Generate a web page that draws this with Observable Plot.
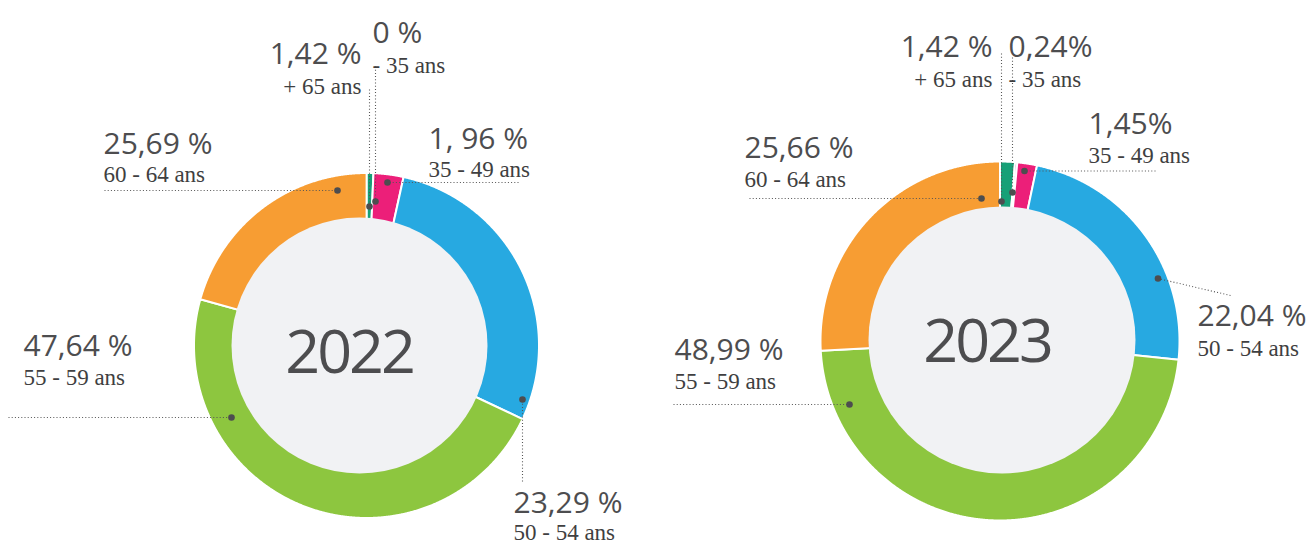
<!DOCTYPE html>
<html><head><meta charset="utf-8">
<script src="https://cdn.jsdelivr.net/npm/d3@7"></script>
<script src="https://cdn.jsdelivr.net/npm/@observablehq/plot@0.6"></script>
<style>
body{margin:0;background:#fff;}
.year text, text.year{letter-spacing:-3px}
.sub text, text.sub{font-family:"Liberation Serif","DejaVu Serif",Times,serif !important}
</style></head><body><div id="chart"></div>
<script>
// ---- data ----
const categories = ["+ 65 ans", "- 35 ans", "35 - 49 ans", "50 - 54 ans", "55 - 59 ans", "60 - 64 ans"];
const years = ["2022", "2023"];
const labels2022 = ["1,42 %", "0 %", "1, 96 %", "23,29 %", "47,64 %", "25,69 %"];
const labels2023 = ["1,42 %", "0,24%", "1,45%", "22,04 %", "48,99 %", "25,66 %"];
// slice sizes (%) as drawn in the picture
const shares2022 = [0.64, 0, 2.81, 28.56, 47.31, 20.69];
const shares2023 = [1.34, 0.2, 1.77, 23.36, 47.47, 25.86];

// ---- styles / layout ----
const colors = ["#17a077", "#8e3a96", "#ec1f79", "#27a9e1", "#8dc63f", "#f79d33"];
const W = 1314, H = 543;
const donuts = [
  {year: "2022", cx: 366, cy: 345, r: 172.5, hx: 359, hy: 345, hr: 128, tx: 348.5, ty: 372},
  {year: "2023", cx: 999.5, cy: 340.5, r: 179.5, hx: 1001.5, hy: 339.5, hr: 133.5, tx: 986.5, ty: 361}
];
const layout2022 = [
  {anchor: "end",   x: 361, y1: 63,  y2: 93,  lx1: 369, ly1: 89,  lx2: 369, ly2: 206},
  {anchor: "start", x: 372, y1: 42,  y2: 72,  lx1: 375, ly1: 66,  lx2: 375, ly2: 201},
  {anchor: "start", x: 428, y1: 148, y2: 176, lx1: 518, ly1: 182, lx2: 387, ly2: 182},
  {anchor: "start", x: 513, y1: 512, y2: 539, lx1: 522, ly1: 481, lx2: 522, ly2: 399},
  {anchor: "start", x: 23,  y1: 355, y2: 384, lx1: 8,   ly1: 417, lx2: 231, ly2: 417},
  {anchor: "start", x: 103, y1: 153, y2: 181, lx1: 104, ly1: 190, lx2: 337, ly2: 190}
];
const layout2023 = [
  {anchor: "end",   x: 992,  y1: 56,  y2: 86,  lx1: 1001, ly1: 53,    lx2: 1001,   ly2: 201},
  {anchor: "start", x: 1008, y1: 56,  y2: 86,  lx1: 1012, ly1: 57,    lx2: 1012,   ly2: 192},
  {anchor: "start", x: 1088, y1: 133, y2: 162, lx1: 1155, ly1: 170.5, lx2: 1024,   ly2: 170.5},
  {anchor: "start", x: 1197, y1: 325, y2: 355, lx1: 1230, ly1: 295,   lx2: 1157.5, ly2: 278},
  {anchor: "start", x: 674,  y1: 359, y2: 388, lx1: 673,  ly1: 404,   lx2: 849,    ly2: 404},
  {anchor: "start", x: 744,  y1: 157, y2: 186, lx1: 749,  ly1: 198,   lx2: 981,    ly2: 198}
];

const sharesBy = {"2022": shares2022, "2023": shares2023};
const labelsBy = {"2022": labels2022, "2023": labels2023};
const layoutBy = {"2022": layout2022, "2023": layout2023};

// slice outlines from the shares (angles clockwise from 12 o'clock)
const slicePts = [];
const rad = Math.PI / 180;
for (const d of donuts) {
  const s = sharesBy[d.year];
  const rin = 95;
  let a0 = 0;
  s.forEach((v, i) => {
    const a1 = a0 + v / 100 * 360;
    if (v > 0) {
      const id = d.year + "-" + i;
      const n = Math.max(2, Math.ceil((a1 - a0) / 0.25));
      const ring = [];
      for (let k = 0; k <= n; k++) { const a = (a0 + (a1 - a0) * k / n) * rad; ring.push([d.cx + d.r * Math.sin(a), d.cy - d.r * Math.cos(a)]); }
      for (let k = n; k >= 0; k--) { const a = (a0 + (a1 - a0) * k / n) * rad; ring.push([d.cx + rin * Math.sin(a), d.cy - rin * Math.cos(a)]); }
      ring.push(ring[0]);
      for (const [x, y] of ring) slicePts.push({id, cat: categories[i], x, y});
    }
    a0 = a1;
  });
}

const texts = [];
const leaders = [];
for (const y of years) {
  categories.forEach((c, i) => {
    const L = layoutBy[y][i];
    texts.push({anchor: L.anchor, x: L.x, yMain: L.y1, ySub: L.y2, main: labelsBy[y][i], sub: c});
    leaders.push(L);
  });
}

const ink = "#4d4d4f";
const mainFont = {fontFamily: "Open Sans", fontSize: 30, fill: ink, lineAnchor: "bottom"};
const subFont = {fontFamily: "Liberation Serif, DejaVu Serif, serif", fontSize: 23, fill: "#3f3f41", lineAnchor: "bottom", className: "sub"};

const chart = Plot.plot({
  width: W, height: H,
  marginTop: 0, marginRight: 0, marginBottom: 0, marginLeft: 0,
  x: {domain: [0, W], range: [0, W], axis: null},
  y: {domain: [0, H], range: [0, H], axis: null},
  r: {type: "identity"},
  color: {domain: categories, range: colors},
  style: {background: "#fff", overflow: "visible"},
  marks: [
    Plot.line(slicePts, {x: "x", y: "y", z: "id", fill: "cat", stroke: "white", strokeWidth: 2}),
    Plot.dot(donuts, {x: "hx", y: "hy", r: "hr", fill: "#f1f2f4", stroke: null}),
    Plot.text(donuts, {x: "tx", y: "ty", text: "year", fontFamily: "Open Sans", fontSize: 61, fill: ink, lineAnchor: "bottom", textAnchor: "middle", className: "year"}),
    Plot.link(leaders, {x1: "lx1", y1: "ly1", x2: "lx2", y2: "ly2", stroke: "#555", strokeWidth: 1.1, strokeDasharray: "1,2.2"}),
    Plot.dot(leaders, {x: "lx2", y: "ly2", r: 3.3, fill: ink, stroke: null}),
    Plot.text(texts.filter(t => t.anchor === "start"), {x: "x", y: "yMain", text: "main", textAnchor: "start", ...mainFont}),
    Plot.text(texts.filter(t => t.anchor === "end"), {x: "x", y: "yMain", text: "main", textAnchor: "end", ...mainFont}),
    Plot.text(texts.filter(t => t.anchor === "start"), {x: "x", y: "ySub", text: "sub", textAnchor: "start", ...subFont}),
    Plot.text(texts.filter(t => t.anchor === "end"), {x: "x", y: "ySub", text: "sub", textAnchor: "end", ...subFont})
  ]
});
document.getElementById("chart").appendChild(chart);
</script>
</body></html>
